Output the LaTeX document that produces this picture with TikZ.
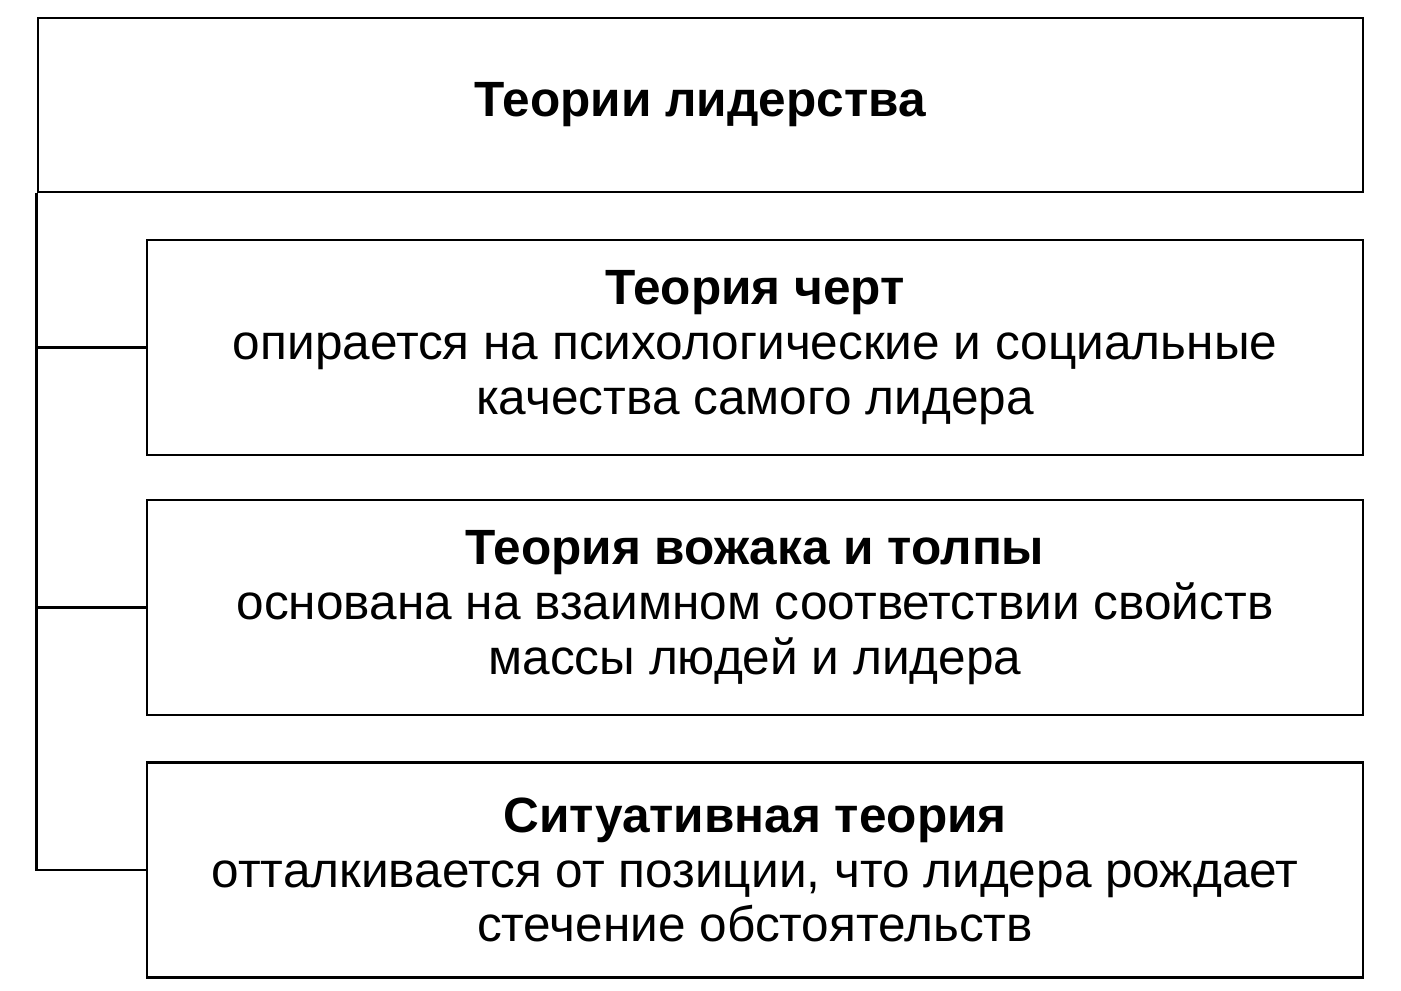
\documentclass[tikz,border=0pt]{standalone}
\usepackage{fontspec}
\setmainfont{Liberation Sans}
\usetikzlibrary{positioning}

\begin{document}
\begin{tikzpicture}[
  box/.style={draw, line width=0.8pt, minimum width=12.16cm, minimum height=2.15cm,
    align=center, inner sep=0pt, font=\fontsize{14.1}{15.6}\selectfont},
  link/.style={line width=0.8pt}]
\useasboundingbox (0,0) rectangle (14.01,-9.90);
\node[box, minimum width=13.25cm, minimum height=1.74cm] (main) at (7.005,-1.05)
  {\textbf{Теории лидерства}};
\node[box] (trait) at (7.55,-3.475)
  {\textbf{Теория черт}\\опирается на психологические и социальные\\качества самого лидера};
\node[box] (crowd) at (7.55,-6.075)
  {\textbf{Теория вожака и толпы}\\основана на взаимном соответствии свойств\\массы людей и лидера};
\node[box] (situ) at (7.55,-8.70)
  {\textbf{Ситуативная теория}\\отталкивается от позиции, что лидера рождает\\стечение обстоятельств};
\foreach \n in {trait,crowd,situ} % connectors
  \draw[link] (main.south west) |- (\n.west);
\end{tikzpicture}
\end{document}
